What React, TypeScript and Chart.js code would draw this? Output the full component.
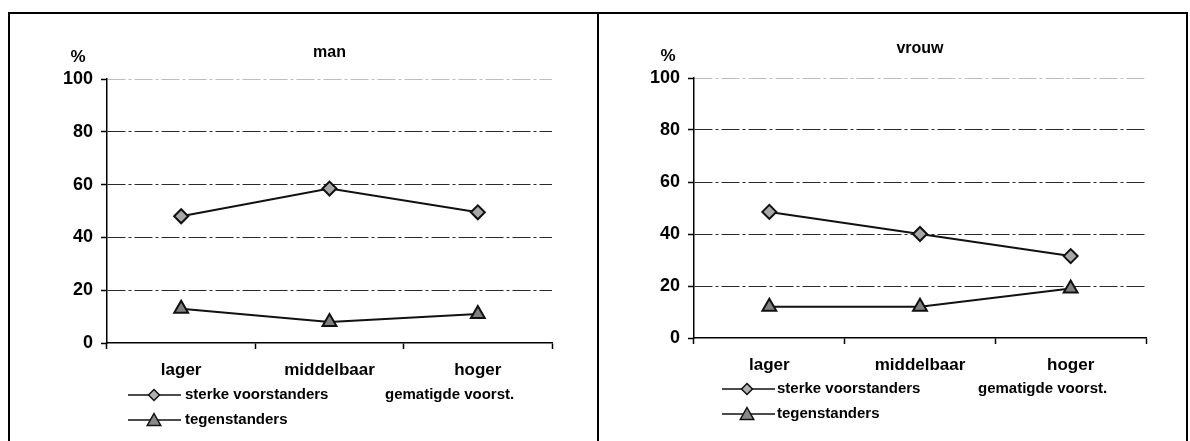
import React, { useEffect, useRef } from 'react';
import { Chart, registerables } from 'chart.js';

Chart.register(...registerables);

const categories = ['lager', 'middelbaar', 'hoger'];
const yMin = 0;
const yMax = 100;
const yStep = 20;
const manSterke = [48, 58.5, 49.5];
const manTegen = [13, 8, 11];
const vrouwSterke = [48.5, 40, 31.5];
const vrouwTegen = [12, 12, 19];
const legendLabels = ['sterke voorstanders', 'gematigde voorst.', 'tegenstanders'];
const titles = ['man', 'vrouw'];
const unitLabel = '%';

const FONT = '"Liberation Sans", Arial, Helvetica, sans-serif';
const CW = 587;
const CH = 427;

type PanelCfg = {
  title: string;
  sterke: number[];
  tegen: number[];
  area: { left: number; right: number; top: number; bottom: number };
  titleY: number;
  pct: { x: number; y: number };
  lg: { lineX1: number; lineX2: number; markX: number; textX: number; text2X: number; row1: number; row2: number };
};

const panels: PanelCfg[] = [
  {
    title: titles[0],
    sterke: manSterke,
    tegen: manTegen,
    area: { left: 97, right: 542, top: 65, bottom: 329 },
    titleY: 39,
    pct: { x: 68, y: 43 },
    lg: { lineX1: 118, lineX2: 171, markX: 144, textX: 175, text2X: 375, row1: 381, row2: 406 },
  },
  {
    title: titles[1],
    sterke: vrouwSterke,
    tegen: vrouwTegen,
    area: { left: 95, right: 547, top: 64, bottom: 324 },
    titleY: 35,
    pct: { x: 69, y: 42 },
    lg: { lineX1: 123, lineX2: 176, markX: 148, textX: 178, text2X: 379, row1: 375, row2: 400 },
  },
];

function diamond(ctx: CanvasRenderingContext2D, x: number, y: number, r: number, fill: string) {
  ctx.beginPath();
  ctx.moveTo(x, y - r);
  ctx.lineTo(x + r, y);
  ctx.lineTo(x, y + r);
  ctx.lineTo(x - r, y);
  ctx.closePath();
  ctx.fillStyle = fill;
  ctx.fill();
  ctx.lineWidth = 1.5;
  ctx.strokeStyle = '#111';
  ctx.stroke();
}

function triangle(ctx: CanvasRenderingContext2D, x: number, y: number, r: number, fill: string) {
  ctx.beginPath();
  ctx.moveTo(x, y - r);
  ctx.lineTo(x + r * 0.9, y + r * 0.6);
  ctx.lineTo(x - r * 0.9, y + r * 0.6);
  ctx.closePath();
  ctx.fillStyle = fill;
  ctx.fill();
  ctx.lineWidth = 1.5;
  ctx.strokeStyle = '#111';
  ctx.stroke();
}

function Panel({ cfg }: { cfg: PanelCfg }) {
  const ref = useRef<HTMLCanvasElement | null>(null);
  useEffect(() => {
    if (!ref.current) return;
    const a = cfg.area;
    const extras = {
      id: 'extras',
      afterDraw(chart: any) {
        const ctx = chart.ctx as CanvasRenderingContext2D;
        const ca = chart.chartArea;
        ctx.save();
        ctx.fillStyle = '#000';
        ctx.textBaseline = 'middle';
        ctx.textAlign = 'center';
        ctx.font = `bold 16px ${FONT}`;
        ctx.fillText(cfg.title, (ca.left + ca.right) / 2, cfg.titleY);
        ctx.font = `bold 17px ${FONT}`;
        ctx.fillText(unitLabel, cfg.pct.x, cfg.pct.y);
        const lg = cfg.lg;
        ctx.strokeStyle = '#111';
        ctx.lineWidth = 1.5;
        ctx.beginPath();
        ctx.moveTo(lg.lineX1, lg.row1);
        ctx.lineTo(lg.lineX2, lg.row1);
        ctx.stroke();
        diamond(ctx, lg.markX, lg.row1, 5.5, '#b0b0b0');
        ctx.beginPath();
        ctx.moveTo(lg.lineX1, lg.row2);
        ctx.lineTo(lg.lineX2, lg.row2);
        ctx.stroke();
        triangle(ctx, lg.markX, lg.row2 + 1, 7.5, '#888');
        ctx.fillStyle = '#000';
        ctx.font = `bold 15px ${FONT}`;
        ctx.textAlign = 'left';
        ctx.fillText(legendLabels[0], lg.textX, lg.row1);
        ctx.fillText(legendLabels[1], lg.text2X, lg.row1);
        ctx.fillText(legendLabels[2], lg.textX, lg.row2);
        ctx.restore();
      },
    };
    const chart = new Chart(ref.current, {
      type: 'line',
      data: {
        labels: categories,
        datasets: [
          {
            label: legendLabels[0],
            data: cfg.sterke,
            borderColor: '#111',
            borderWidth: 2,
            pointStyle: 'rectRot',
            pointRadius: 7,
            pointBackgroundColor: '#a8a8a8',
            pointBorderColor: '#111',
            pointBorderWidth: 2,
            tension: 0,
          },
          {
            label: legendLabels[2],
            data: cfg.tegen,
            borderColor: '#111',
            borderWidth: 2,
            pointStyle: 'triangle',
            pointRadius: 8,
            pointBackgroundColor: '#808080',
            pointBorderColor: '#111',
            pointBorderWidth: 2,
            tension: 0,
          },
        ],
      },
      options: {
        responsive: false,
        maintainAspectRatio: false,
        animation: false,
        layout: { padding: { top: a.top, right: CW - a.right, bottom: 0, left: 0 } },
        plugins: {
          legend: { display: false },
          title: { display: false },
          tooltip: { enabled: false },
        },
        scales: {
          x: {
            offset: true,
            grid: { offset: true, drawOnChartArea: false, drawTicks: true, tickLength: 6, tickColor: '#000', tickWidth: 1.5 },
            border: { display: true, color: '#000', width: 1.5 },
            ticks: { color: '#000', font: { family: FONT, size: 17, weight: 'bold' }, padding: 11, maxRotation: 0 },
            afterFit: (s: any) => {
              s.height = CH - a.bottom;
            },
          },
          y: {
            min: yMin,
            max: yMax,
            ticks: { stepSize: yStep, color: '#000', font: { family: FONT, size: 18, weight: 'bold' }, padding: 8 },
            grid: {
              color: (c: any) =>
                c.tick && c.tick.value === yMax ? '#bdbdbd' : c.tick && c.tick.value === yMin ? 'rgba(0,0,0,0)' : '#2a2a2a',
              lineWidth: 1,
              tickLength: 6,
              tickColor: '#000',
              tickWidth: 1.5,
            },
            border: { display: true, color: '#000', width: 1.5, dash: [18, 3, 3, 3] },
            afterFit: (s: any) => {
              s.width = a.left;
            },
          },
        },
      },
      plugins: [extras],
    } as any);
    return () => chart.destroy();
  }, [cfg]);
  return (
    <div style={{ width: CW, height: CH, borderRight: '2px solid #000', background: '#fff' }}>
      <canvas ref={ref} width={CW} height={CH} style={{ display: 'block' }} />
    </div>
  );
}

export default function App() {
  return (
    <div
      style={{
        position: 'absolute',
        left: 8,
        top: 12,
        display: 'flex',
        borderTop: '2px solid #000',
        borderLeft: '2px solid #000',
      }}
    >
      {panels.map((p) => (
        <Panel key={p.title} cfg={p} />
      ))}
    </div>
  );
}
